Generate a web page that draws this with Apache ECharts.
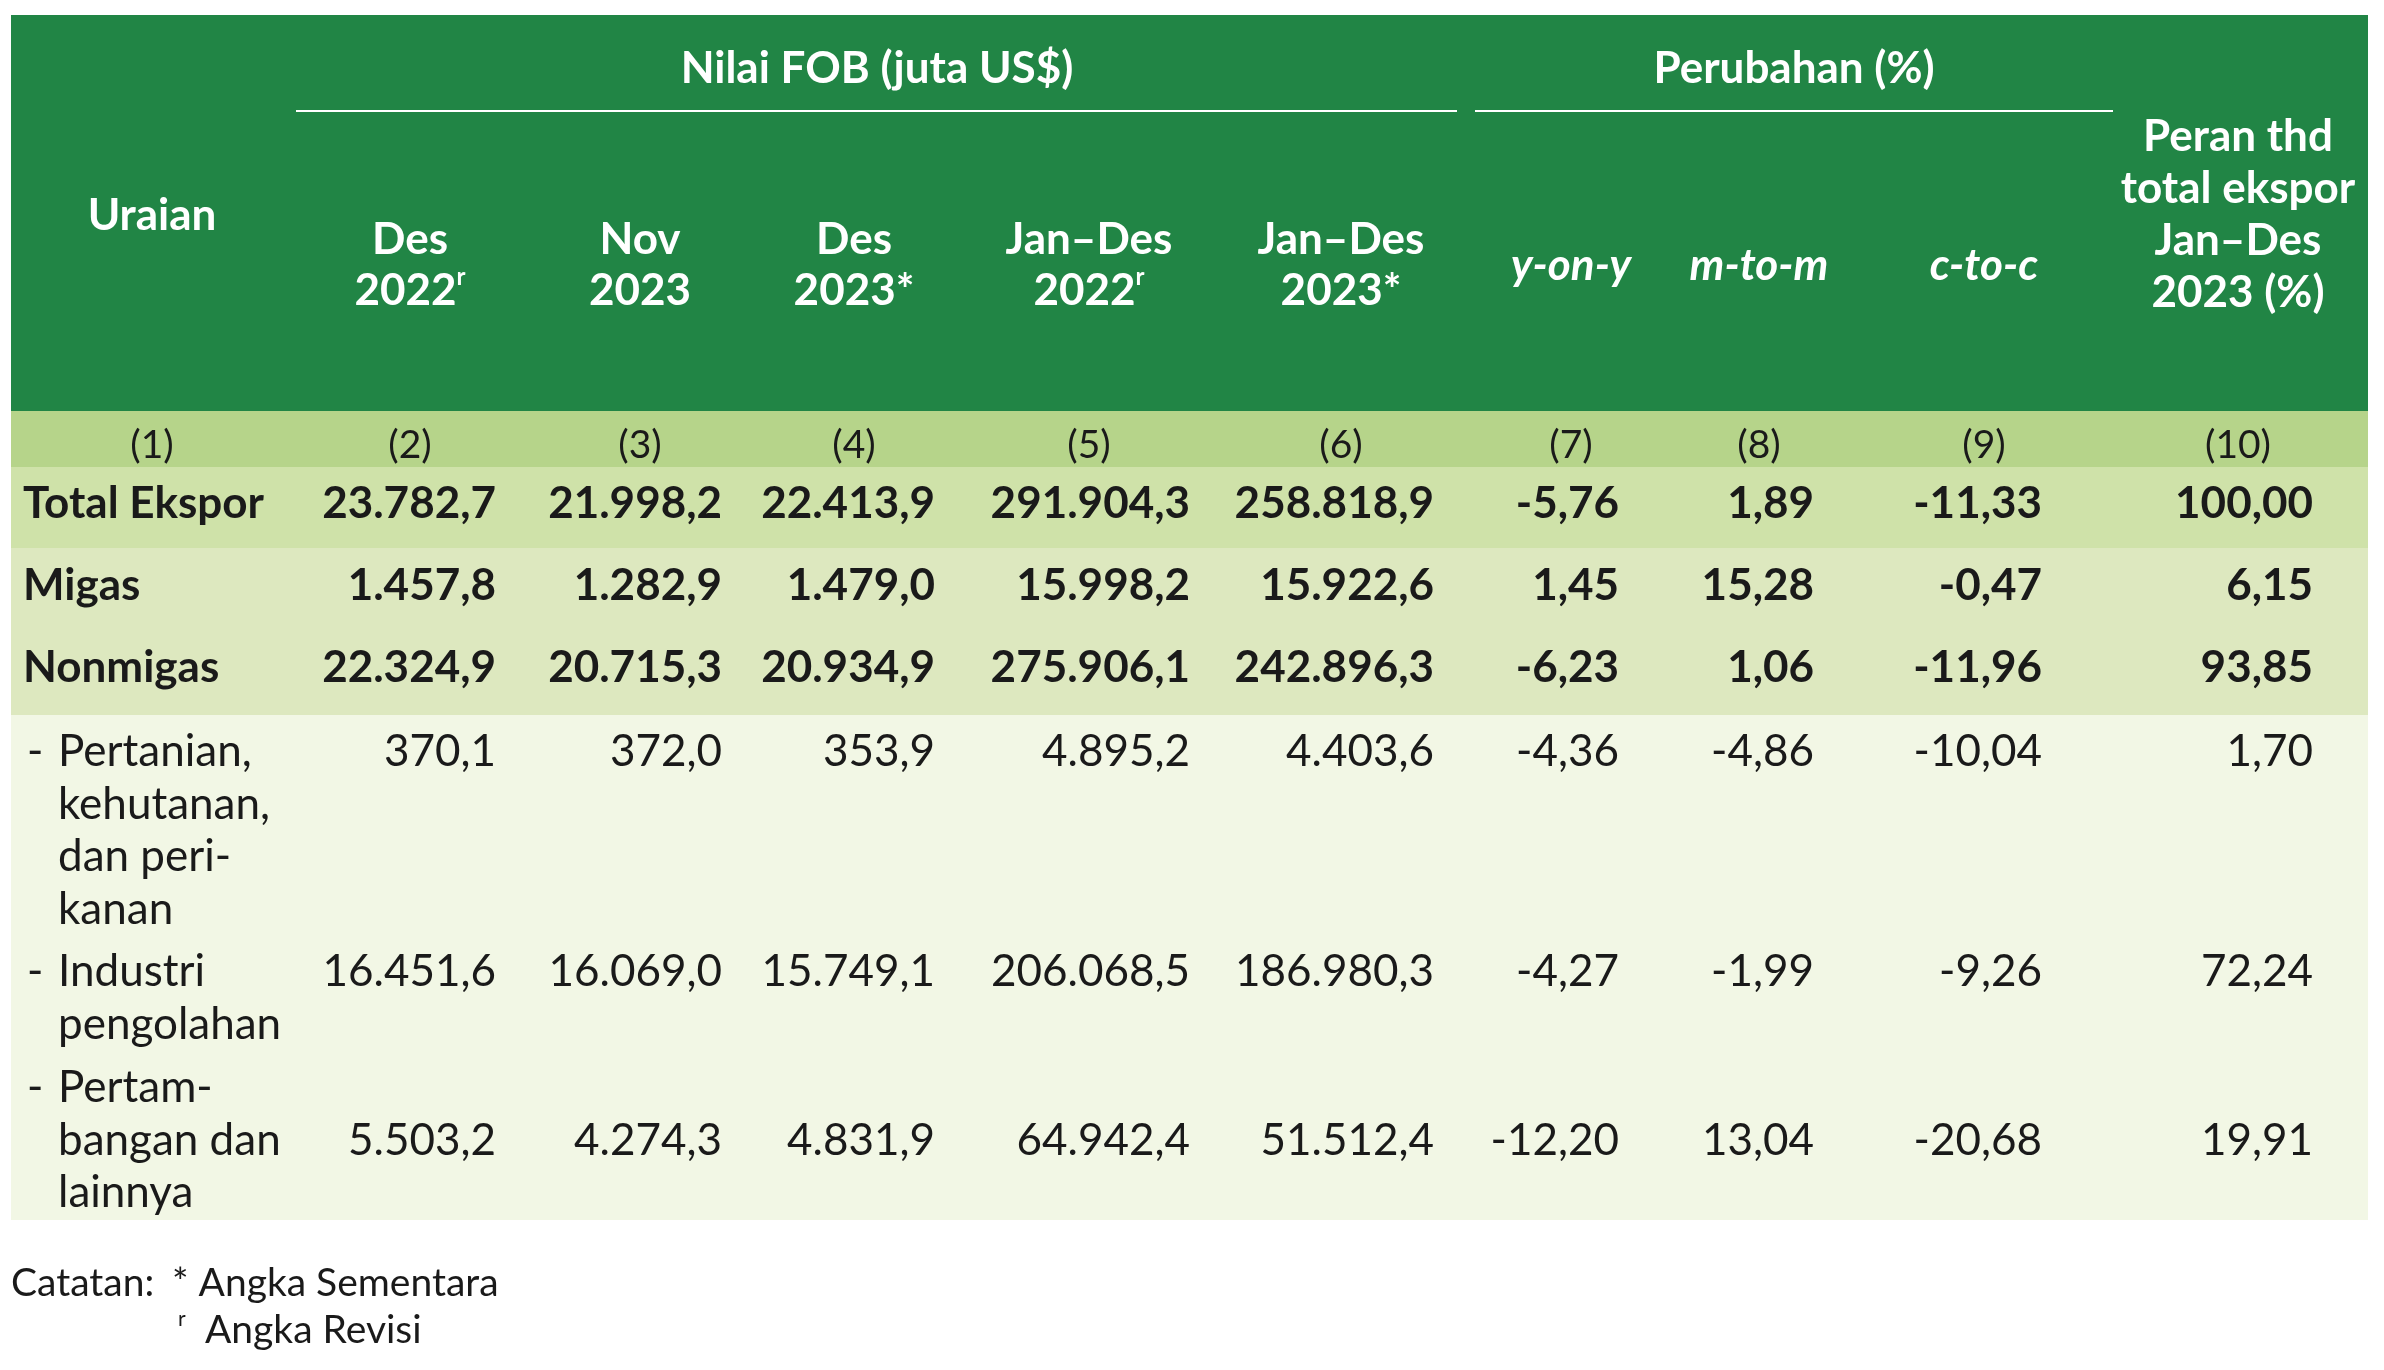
<!DOCTYPE html>
<html>
<head>
<meta charset="utf-8">
<script src="https://cdn.jsdelivr.net/npm/echarts@6/dist/echarts.min.js"></script>
<style>
html, body { margin: 0; padding: 0; background: #fff; }
#main { width: 2384px; height: 1370px; }
</style>
</head>
<body>
<div id="main"></div>
<script>
// table content
var groupTitles = ['Nilai FOB (juta US$)', 'Perubahan (%)'];
var colHeads = ['Des\n2022{sup|r}', 'Nov\n2023', 'Des\n2023*', 'Jan\u2013Des\n2022{sup|r}', 'Jan\u2013Des\n2023*', 'y-on-y', 'm-to-m', 'c-to-c'];
var firstHead = 'Uraian';
var lastHead = 'Peran thd\ntotal ekspor\nJan\u2013Des\n2023 (%)';
var colNums = ['(1)', '(2)', '(3)', '(4)', '(5)', '(6)', '(7)', '(8)', '(9)', '(10)'];
var rowLabels = [
    ['Total Ekspor'],
    ['Migas'],
    ['Nonmigas'],
    ['Pertanian,', 'kehutanan,', 'dan peri-', 'kanan'],
    ['Industri', 'pengolahan'],
    ['Pertam-', 'bangan dan', 'lainnya']
];
var des2022 = [23782.7, 1457.8, 22324.9, 370.1, 16451.6, 5503.2];
var nov2023 = [21998.2, 1282.9, 20715.3, 372.0, 16069.0, 4274.3];
var des2023 = [22413.9, 1479.0, 20934.9, 353.9, 15749.1, 4831.9];
var janDes2022 = [291904.3, 15998.2, 275906.1, 4895.2, 206068.5, 64942.4];
var janDes2023 = [258818.9, 15922.6, 242896.3, 4403.6, 186980.3, 51512.4];
var yoy = [-5.76, 1.45, -6.23, -4.36, -4.27, -12.20];
var mtm = [1.89, 15.28, 1.06, -4.86, -1.99, 13.04];
var ctc = [-11.33, -0.47, -11.96, -10.04, -9.26, -20.68];
var peran = [100.00, 6.15, 93.85, 1.70, 72.24, 19.91];
var notes = ['Catatan:', '* Angka Sementara', 'Angka Revisi'];

// layout (pixels on the hidden axes)
var W = 2384, H = 1370;
var tableL = 11, tableR = 2368;
var bandEdges = [15, 411, 467, 548, 715, 1220];
var bandColors = ['#218545', '#b6d48a', '#cfe2a9', '#dde8bf', '#f2f7e5'];
var colCenter = [152, 410, 640, 854, 1089, 1341, 1571, 1759, 1984, 2238];
var colRight = [496, 722, 935, 1190, 1434, 1619, 1814, 2042, 2313];
var rowValueY = [504, 586, 668, 752, 972, 1141];
var rowLabelY = [504, 586, 668, 752, 972, 1088];
var lineGap = 52.5;
var FONT = 'Lato';

var valueCols = [des2022, nov2023, des2023, janDes2022, janDes2023, yoy, mtm, ctc, peran];
var decimals = [1, 1, 1, 1, 1, 2, 2, 2, 2];

function fmt(v, d) {
    var s = Math.abs(v).toFixed(d).split('.');
    var i = s[0].replace(/\B(?=(\d{3})+(?!\d))/g, '.');
    return (v < 0 ? '-' : '') + i + ',' + s[1];
}

var cellData = [];
valueCols.forEach(function (col, c) {
    col.forEach(function (v, r) { cellData.push([c, r, v]); });
});

var chart = echarts.init(document.getElementById('main'), null, { renderer: 'canvas' });

var option = {
    animation: false,
    backgroundColor: '#ffffff',
    grid: { left: 0, right: 0, top: 0, bottom: 0 },
    xAxis: { type: 'value', min: 0, max: W, show: false },
    yAxis: { type: 'value', min: 0, max: H, inverse: true, show: false },
    series: [
        // row bands
        {
            type: 'custom',
            coordinateSystem: 'cartesian2d',
            data: bandColors.map(function (c, i) { return [i]; }),
            renderItem: function (params, api) {
                var i = api.value(0);
                var p0 = api.coord([tableL, bandEdges[i]]);
                var p1 = api.coord([tableR, bandEdges[i + 1]]);
                return {
                    type: 'rect',
                    shape: { x: p0[0], y: p0[1], width: p1[0] - p0[0], height: p1[1] - p0[1] },
                    style: { fill: bandColors[i] }
                };
            },
            silent: true,
            z: 1
        },
        // header
        {
            type: 'custom',
            coordinateSystem: 'cartesian2d',
            data: [[0]],
            renderItem: function (params, api) {
                var kids = [];
                var txt = function (x, y, text, extra) {
                    var p = api.coord([x, y]);
                    var st = {
                        text: text, x: 0, y: 0, fill: '#ffffff', fontFamily: FONT, fontWeight: 'bold',
                        fontSize: 44, lineHeight: 51, align: 'center', verticalAlign: 'middle',
                        rich: { sup: { fontSize: 24, fontWeight: 'bold', fill: '#ffffff', fontFamily: FONT, verticalAlign: 'top', lineHeight: 51, padding: [0, 0, 16, 0] } }
                    };
                    for (var k in extra) st[k] = extra[k];
                    kids.push({ type: 'text', x: p[0], y: p[1], style: st });
                };
                var line = function (x0, x1, y) {
                    var a = api.coord([x0, y]), b = api.coord([x1, y]);
                    kids.push({ type: 'line', shape: { x1: a[0], y1: a[1], x2: b[0], y2: b[1] }, style: { stroke: '#ffffff', lineWidth: 2 } });
                };
                txt(877, 69, groupTitles[0]);
                txt(1794, 69, groupTitles[1]);
                line(296, 1457, 111);
                line(1475, 2113, 111);
                txt(colCenter[0], 216, firstHead);
                colHeads.forEach(function (h, i) {
                    if (i < 5) {
                        txt(colCenter[i + 1], 265, h);
                    } else {
                        txt(colCenter[i + 1], 266, h, { fontStyle: 'italic' });
                    }
                });
                txt(colCenter[9], 215, lastHead, { lineHeight: 52 });
                colNums.forEach(function (n, i) {
                    txt(colCenter[i], 445, n, { fill: '#1a1a1a', fontWeight: 'normal', fontSize: 39 });
                });
                return { type: 'group', children: kids };
            },
            silent: true,
            z: 2
        },
        // row labels
        {
            type: 'custom',
            coordinateSystem: 'cartesian2d',
            data: rowLabels.map(function (l, i) { return [i]; }),
            renderItem: function (params, api) {
                var r = api.value(0);
                var lines = rowLabels[r];
                var kids = [];
                var bold = r < 3;
                lines.forEach(function (t, k) {
                    var p = api.coord([bold ? 23 : 58, rowLabelY[r] + k * lineGap]);
                    kids.push({ type: 'text', x: p[0], y: p[1], style: {
                        text: t, fill: '#1a1a1a', fontFamily: FONT, fontSize: 44,
                        fontWeight: bold ? 'bold' : 'normal', align: 'left', verticalAlign: 'middle'
                    } });
                });
                if (!bold) {
                    var d = api.coord([27, rowLabelY[r]]);
                    kids.push({ type: 'text', x: d[0], y: d[1], style: {
                        text: '-', fill: '#1a1a1a', fontFamily: FONT, fontSize: 44, align: 'left', verticalAlign: 'middle'
                    } });
                }
                return { type: 'group', children: kids };
            },
            silent: true,
            z: 2
        },
        // values
        {
            type: 'custom',
            coordinateSystem: 'cartesian2d',
            data: cellData,
            renderItem: function (params, api) {
                var c = api.value(0), r = api.value(1), v = api.value(2);
                var p = api.coord([colRight[c], rowValueY[r]]);
                return {
                    type: 'text', x: p[0], y: p[1],
                    style: {
                        text: fmt(v, decimals[c]), fill: '#1a1a1a', fontFamily: FONT, fontSize: 44,
                        fontWeight: r < 3 ? 'bold' : 'normal', align: 'right', verticalAlign: 'middle'
                    }
                };
            },
            silent: true,
            z: 2
        }
    ],
    graphic: [
        { type: 'text', left: 11, top: 1264, style: { text: notes[0], fontFamily: FONT, fontSize: 39, fill: '#1a1a1a' } },
        { type: 'text', left: 172, top: 1264, style: { text: notes[1], fontFamily: FONT, fontSize: 39, fill: '#1a1a1a' } },
        { type: 'text', left: 178, top: 1309, style: { text: 'r', fontFamily: FONT, fontSize: 21, fill: '#1a1a1a' } },
        { type: 'text', left: 205, top: 1311, style: { text: notes[2], fontFamily: FONT, fontSize: 39, fill: '#1a1a1a' } }
    ]
};

chart.setOption(option);
</script>
</body>
</html>
